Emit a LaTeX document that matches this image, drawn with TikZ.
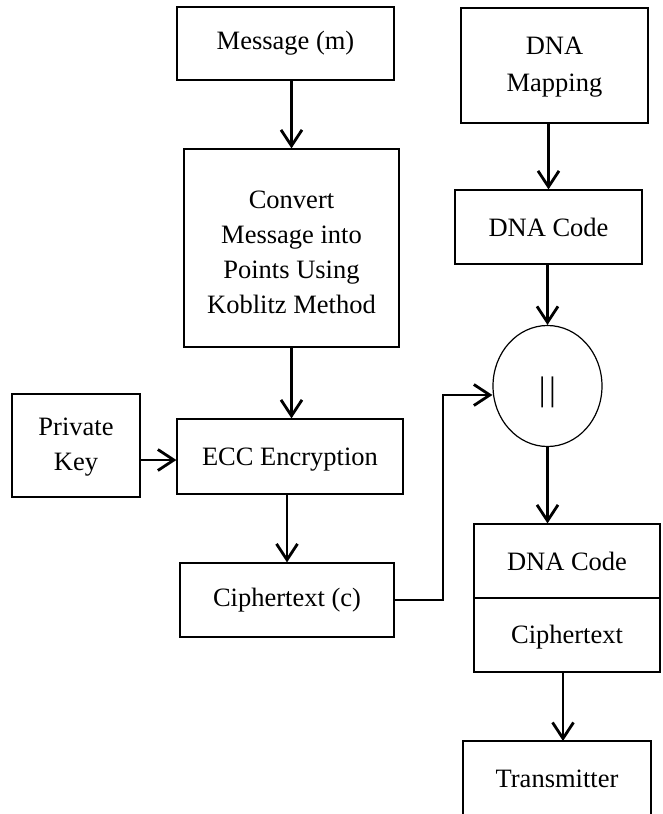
\documentclass[tikz,border=0pt]{standalone}
\usepackage{fontspec}
\setmainfont{Liberation Serif}
\usetikzlibrary{arrows.meta,calc,shapes.geometric}
\begin{document}
\begin{tikzpicture}[x=1pt,y=-1pt,
 box/.style={draw, line width=1.2pt, inner sep=0pt, align=center, font=\fontsize{26.5}{35}\selectfont},
 plain/.style={inner sep=0pt, align=center, font=\fontsize{26.5}{35}\selectfont},
 arr/.style={line width=2.8pt, -{Straight Barb[length=16pt,width=21pt]}}]
\useasboundingbox (0,0) rectangle (662,814);
\clip (0,0) rectangle (662,814);
\node[box, minimum width=217pt, minimum height=73pt] (msg) at (285.5,43.5) {Message (m)};
\node[box, minimum width=215pt, minimum height=198pt] (conv) at (291.5,248) {};
\node[plain] (convtext) at (291.5,252) {Convert\\Message into\\Points Using\\Koblitz Method};
\node[box, minimum width=128pt, minimum height=103pt] (pk) at (76,445.5) {};
\node[plain] (pktext) at (76,447) {Private\\Key};
\node[box, minimum width=226pt, minimum height=75pt] (ecc) at (290,456.5) {};
\node[plain] (ecctext) at (290,459.5) {ECC Encryption};
\node[box, minimum width=214pt, minimum height=74pt] (ct) at (287,600) {Ciphertext (c)};
\node[box, minimum width=187pt, minimum height=115pt] (map) at (554.5,65.5) {};
\node[plain, font=\fontsize{26.5}{37}\selectfont] (maptext) at (554.5,67.5) {DNA\\Mapping};
\node[box, minimum width=187pt, minimum height=74pt] (dnac) at (548.5,227) {DNA Code};
\node[box, ellipse, minimum width=109pt, minimum height=121pt] (circ) at (547.5,386) {};
\node[inner sep=0pt, font=\fontsize{34}{34}\selectfont] (bars) at (547.5,392) {|\kern3.5pt|};
\node[box, minimum width=186pt, minimum height=74pt] (dc2) at (567,561) {DNA Code};
\node[box, minimum width=186pt, minimum height=74pt] (ciph2) at (567,635) {};
\node[plain] (ciph2text) at (567,637) {Ciphertext};
\node[box, minimum width=188pt, minimum height=75pt] (tx) at (557,778.5) {Transmitter};
\coordinate (bend) at (443,395);
\coordinate (txin) at (563,741);
\draw[arr] (msg.south -| conv.north) -- (conv.north);
\draw[arr] (conv.south) -- (conv.south |- ecc.north);
\draw[arr] (pk.east |- 0,460) -- (ecc.west |- 0,460);
\draw[arr] (ecc.south -| ct.north) -- (ct.north);
\draw[arr] (map.south -| dnac.north) -- (dnac.north);
\draw[arr] (dnac.south -| circ.north) -- (circ.north);
\draw[arr] (circ.south) -- (circ.south |- dc2.north);
\draw[arr] (ct.east) -| (bend) -- (circ.west |- bend);
\draw[arr] (ciph2.south -| txin) -- (txin);
\end{tikzpicture}
\end{document}
